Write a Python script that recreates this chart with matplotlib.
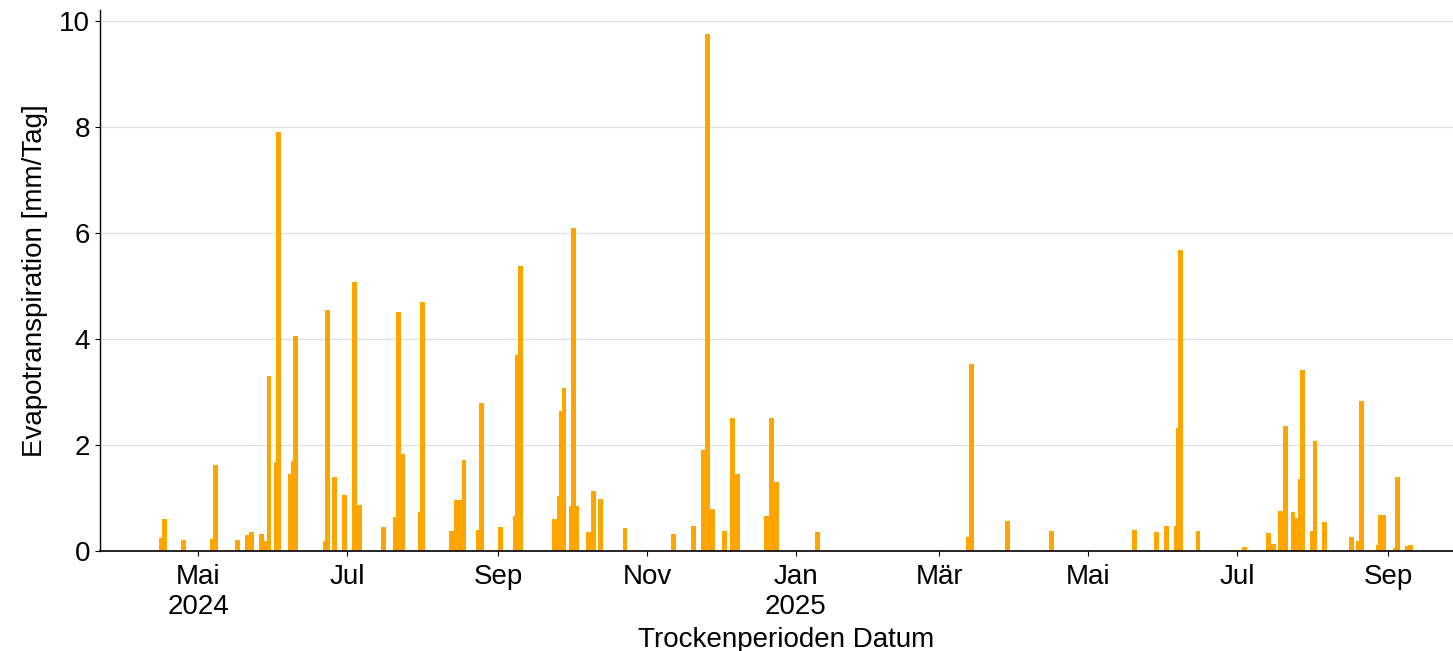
import matplotlib
matplotlib.use("Agg")
import matplotlib.pyplot as plt
import matplotlib.dates as mdates
import numpy as np
import pandas as pd

plt.rcParams['font.family'] = ['Arial', 'Liberation Sans', 'DejaVu Sans']
plt.rcParams['font.size'] = 20

# Trockenperioden: Datum und Evapotranspiration [mm/Tag]
dates = [
    "2024-04-16", "2024-04-17", "2024-04-25", "2024-05-07", "2024-05-08",
    "2024-05-17", "2024-05-21", "2024-05-23", "2024-05-27", "2024-05-28",
    "2024-05-30", "2024-06-02", "2024-06-03", "2024-06-08", "2024-06-09",
    "2024-06-10", "2024-06-22", "2024-06-23", "2024-06-26", "2024-06-30",
    "2024-07-04", "2024-07-06", "2024-07-16", "2024-07-21", "2024-07-22",
    "2024-07-24", "2024-07-31", "2024-08-01", "2024-08-13", "2024-08-15",
    "2024-08-17", "2024-08-18", "2024-08-24", "2024-08-25", "2024-09-02",
    "2024-09-08", "2024-09-09", "2024-09-10", "2024-09-24", "2024-09-26",
    "2024-09-27", "2024-09-28", "2024-10-01", "2024-10-02", "2024-10-03",
    "2024-10-08", "2024-10-10", "2024-10-13", "2024-10-23", "2024-11-12",
    "2024-11-20", "2024-11-24", "2024-11-26", "2024-11-28", "2024-12-03",
    "2024-12-06", "2024-12-08", "2024-12-20", "2024-12-22", "2024-12-24",
    "2025-01-10", "2025-03-13", "2025-03-14", "2025-03-29", "2025-04-16",
    "2025-05-20", "2025-05-29", "2025-06-02", "2025-06-06", "2025-06-07",
    "2025-06-08", "2025-06-15", "2025-07-04", "2025-07-14", "2025-07-16",
    "2025-07-19", "2025-07-21", "2025-07-24", "2025-07-25", "2025-07-27",
    "2025-07-28", "2025-08-01", "2025-08-02", "2025-08-06", "2025-08-17",
    "2025-08-20", "2025-08-21", "2025-08-28", "2025-08-29", "2025-08-30",
    "2025-09-04", "2025-09-05", "2025-09-09", "2025-09-10",
]
et_values = [
    0.25, 0.60, 0.20, 0.23, 1.62,
    0.21, 0.30, 0.36, 0.32, 0.19,
    3.30, 1.68, 7.90, 1.45, 1.69,
    4.05, 0.19, 4.55, 1.39, 1.06,
    5.07, 0.86, 0.45, 0.64, 4.52,
    1.84, 0.74, 4.70, 0.37, 0.96,
    0.97, 1.72, 0.40, 2.79, 0.45,
    0.66, 3.70, 5.37, 0.61, 1.03,
    2.64, 3.07, 0.84, 6.10, 0.85,
    0.35, 1.14, 0.99, 0.43, 0.32,
    0.48, 1.91, 9.75, 0.80, 0.37,
    2.51, 1.45, 0.67, 2.51, 1.30,
    0.35, 0.26, 3.52, 0.56, 0.38,
    0.40, 0.35, 0.48, 0.48, 2.32,
    5.68, 0.38, 0.07, 0.34, 0.14,
    0.76, 2.36, 0.73, 0.62, 1.36,
    3.42, 0.38, 2.08, 0.54, 0.27,
    0.19, 2.84, 0.12, 0.68, 0.68,
    0.06, 1.39, 0.10, 0.11,
]

tick_dates = ["2024-05-01", "2024-07-01", "2024-09-01", "2024-11-01", "2025-01-01",
              "2025-03-01", "2025-05-01", "2025-07-01", "2025-09-01"]
tick_labels = ["Mai\n2024", "Jul", "Sep", "Nov", "Jan\n2025", "Mär", "Mai", "Jul", "Sep"]

x = mdates.date2num(pd.to_datetime(dates))
y = np.array(et_values)

# hoehere Balken oben zeichnen
order = np.argsort(y, kind="stable")

fig = plt.figure(figsize=(14.53, 6.51), dpi=100)
# Achse ragt rechts etwas ueber den Bildrand hinaus (wie im Original)
ax = fig.add_axes([0.0688, 0.1536, 0.9443, 0.831])

ax.bar(x[order], y[order], width=2.0, color="orange", linewidth=0)

ax.set_ylim(0, 10.21)
ref = mdates.date2num(pd.Timestamp("2024-05-01"))
ax.set_xlim(ref - 40.3, ref + 522.4)

ax.set_xticks(mdates.date2num(pd.to_datetime(tick_dates)))
ax.set_xticklabels(tick_labels)
ax.set_yticks([0, 2, 4, 6, 8, 10])
ax.tick_params(axis="x", pad=6)

ax.grid(axis="y", color="#dddddd", linewidth=0.8)
ax.set_axisbelow(True)
ax.spines["top"].set_visible(False)
ax.spines["right"].set_visible(False)
ax.spines["left"].set_linewidth(1.0)
ax.spines["bottom"].set_linewidth(1.2)

ax.set_ylabel("Evapotranspiration [mm/Tag]", labelpad=8)
ax.set_xlabel("Trockenperioden Datum", labelpad=5)

fig.savefig("out.png", dpi=100)
